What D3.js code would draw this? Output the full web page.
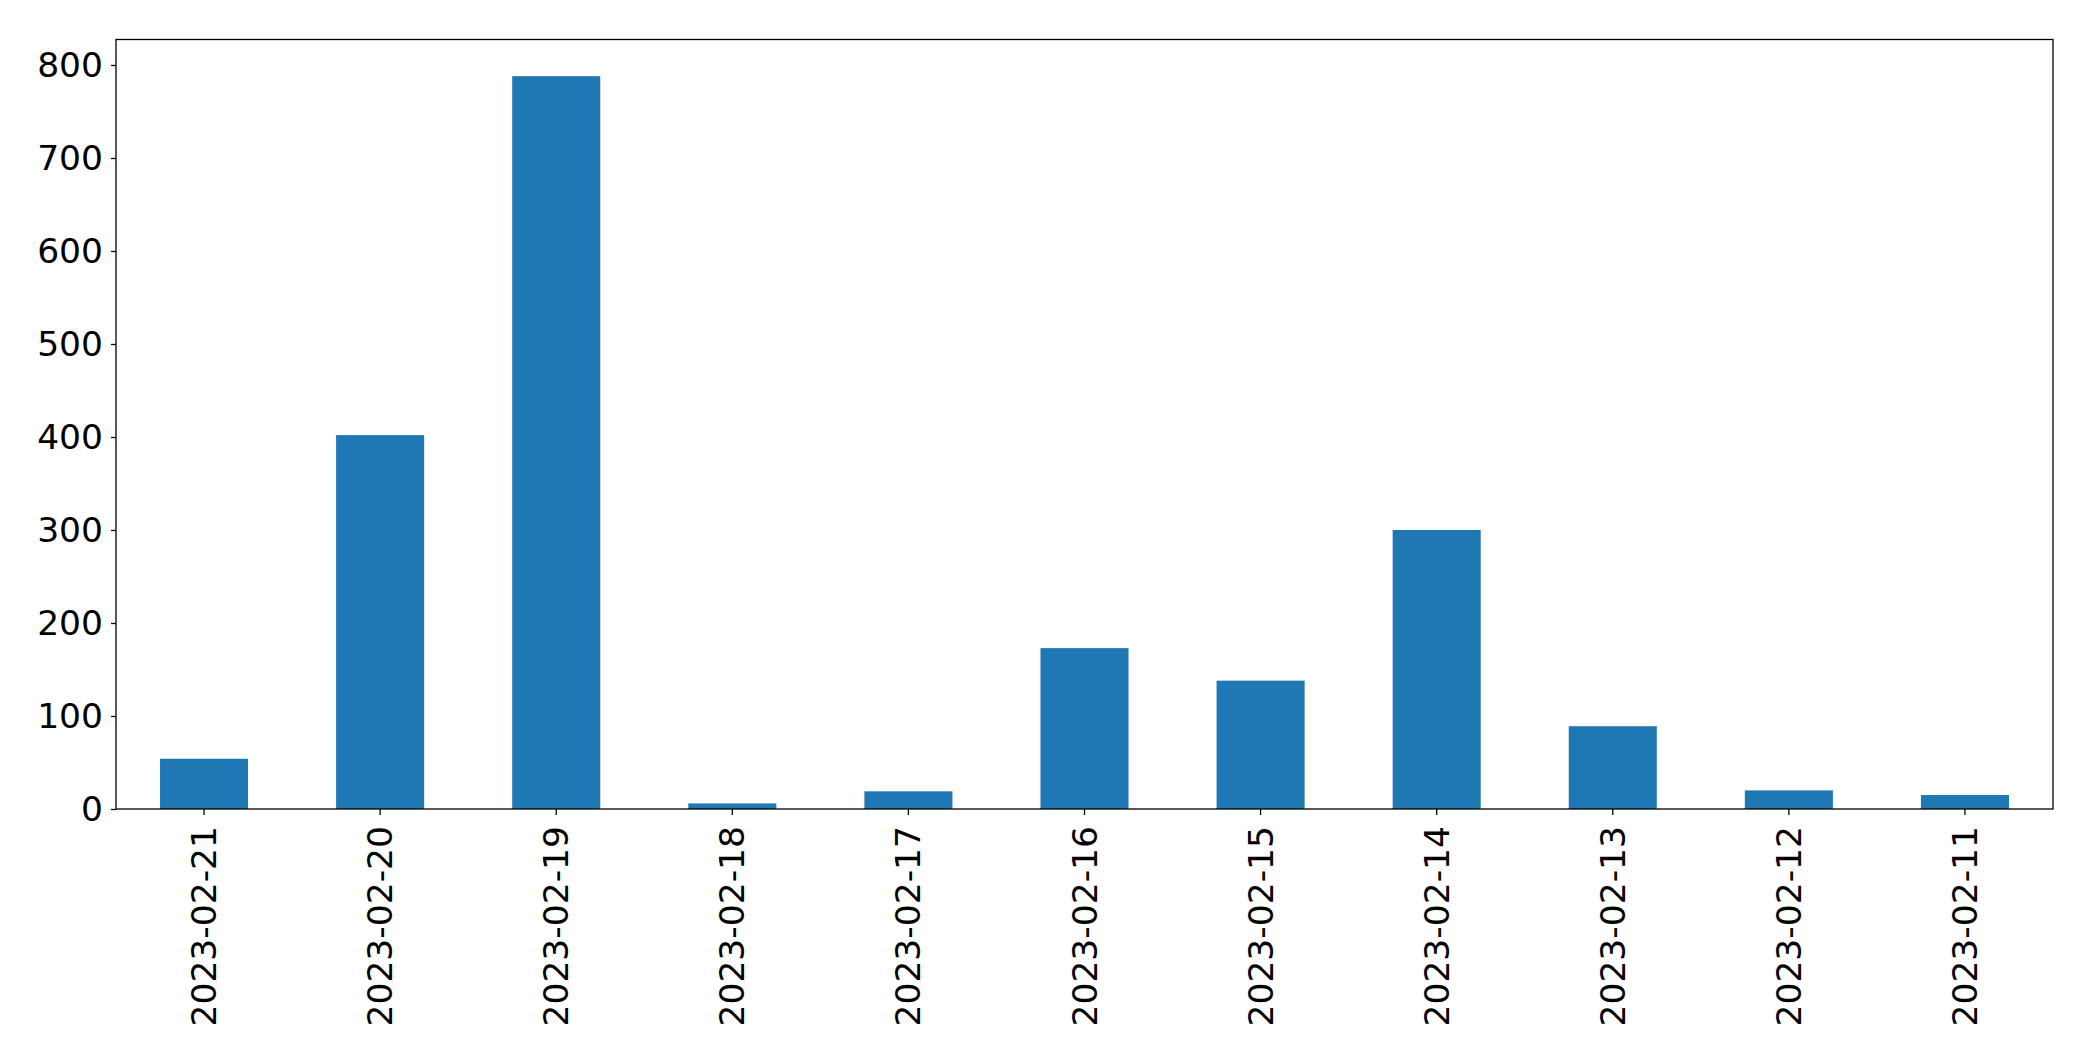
<!DOCTYPE html>
<html>
<head>
<meta charset="utf-8">
<script src="https://cdn.jsdelivr.net/npm/d3@7"></script>
<style>
  html, body { margin: 0; padding: 0; background: #fff; }
  svg { display: block; }
</style>
</head>
<body>
<svg id="chart" width="2093" height="1061"></svg>
<script>
const categories = ["2023-02-21","2023-02-20","2023-02-19","2023-02-18","2023-02-17","2023-02-16","2023-02-15","2023-02-14","2023-02-13","2023-02-12","2023-02-11"];
const values = [54, 402, 788, 6, 19, 173, 138, 300, 89, 20, 15];
const yTicks = [0, 100, 200, 300, 400, 500, 600, 700, 800];

const W = 2093, H = 1061;
const m = { left: 116, right: 40, top: 39.5, bottom: 252 };
const x0 = m.left, x1 = W - m.right, y0 = H - m.bottom, y1 = m.top;

const svg = d3.select("#chart");
const font = "'DejaVu Sans', sans-serif";
const fs = 34.5;

const x = d3.scaleBand().domain(categories).range([x0, x1]).paddingInner(0.5).paddingOuter(0.25);
const yMax = d3.max(values) * 1.05;
const y = d3.scaleLinear().domain([0, yMax]).range([y0, y1]);

svg.append("g").selectAll("rect").data(values).join("rect")
  .attr("x", (d, i) => x(categories[i]))
  .attr("width", x.bandwidth())
  .attr("y", d => y(d))
  .attr("height", d => y(0) - y(d))
  .attr("fill", "#1f77b4");

// y axis
const yAxis = svg.append("g").attr("transform", `translate(${x0},0)`)
  .call(d3.axisLeft(y).tickValues(yTicks).tickSize(5).tickPadding(8).tickFormat(d3.format("d")));
yAxis.select(".domain").remove();
yAxis.selectAll("line").attr("stroke", "#000").attr("stroke-width", 1.3);
yAxis.selectAll("text").attr("font-family", font).attr("font-size", fs).attr("fill", "#000");

// x axis
const xAxis = svg.append("g").attr("transform", `translate(0,${y0})`)
  .call(d3.axisBottom(x).tickSize(6).tickPadding(0));
xAxis.select(".domain").remove();
xAxis.selectAll("line").attr("stroke", "#000").attr("stroke-width", 1.3);
xAxis.selectAll("text")
  .attr("font-family", font).attr("font-size", fs).attr("fill", "#000")
  .attr("text-anchor", "end")
  .attr("dy", "0.35em")
  .attr("transform", "translate(0,17) rotate(-90)")
  .attr("x", 0).attr("y", 0);

// frame
svg.append("rect")
  .attr("x", x0).attr("y", y1)
  .attr("width", x1 - x0).attr("height", y0 - y1)
  .attr("fill", "none").attr("stroke", "#000").attr("stroke-width", 1.3);
</script>
</body>
</html>
